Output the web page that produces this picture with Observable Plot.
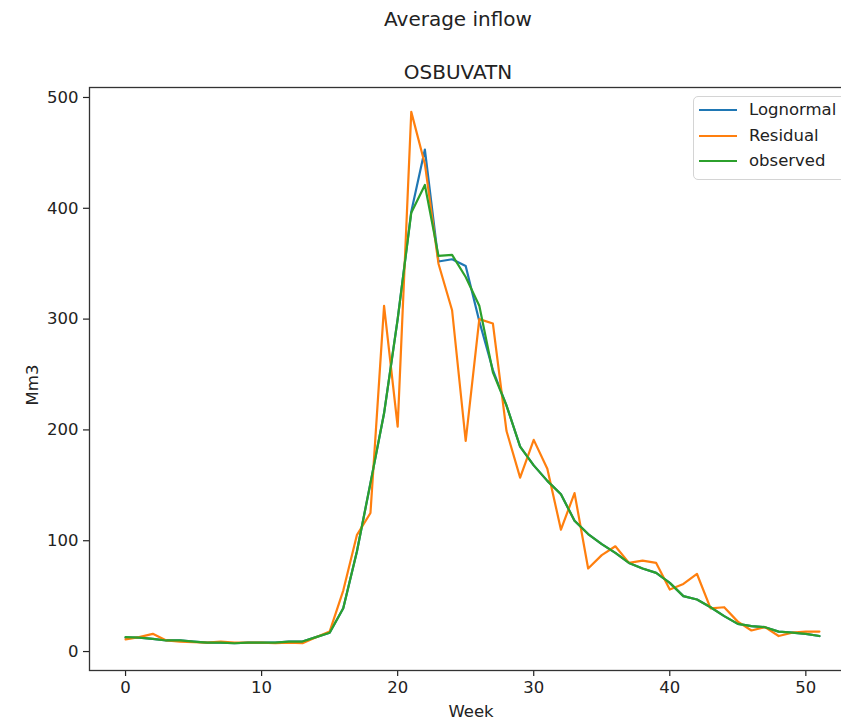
<!DOCTYPE html>
<html><head><meta charset="utf-8">
<script src="https://cdn.jsdelivr.net/npm/d3@7"></script>
<script src="https://cdn.jsdelivr.net/npm/@observablehq/plot@0.6"></script>
<style>
html,body{margin:0;padding:0;background:#fff;overflow:hidden;}
#wrap{position:relative;width:841px;height:721px;overflow:hidden;font-family:"DejaVu Sans",sans-serif;color:#222;background:#fff;}
.t{position:absolute;white-space:nowrap;transform:translate(-50%,-50%);line-height:1;}
#chart{position:absolute;left:0;top:80px;width:870px;height:641px;}
#chart svg{max-width:none !important;width:870px !important;height:641px !important;}
#legend{position:absolute;left:693px;top:96px;width:170px;height:82px;border:1px solid #d4d4d4;border-radius:5px;background:rgba(255,255,255,0.85);}
.row{position:absolute;left:0;height:20px;font-size:16.5px;line-height:20px;white-space:nowrap;}
.sw{position:absolute;left:5px;top:9px;width:38px;height:0;border-top:2.2px solid;}
.lb{position:absolute;left:55px;top:0;}
</style></head>
<body>
<div id="wrap">
  <div class="t" style="left:458px;top:19px;font-size:20px;">Average inflow</div>
  <div class="t" style="left:458px;top:72px;font-size:20px;">OSBUVATN</div>
  <div id="chart"></div>
  <div class="t" style="left:471px;top:712px;font-size:16.5px;">Week</div>
  <div class="t" style="left:33px;top:385px;font-size:16.5px;transform:translate(-50%,-50%) rotate(-90deg);">Mm3</div>
  <div id="legend"></div>
</div>
<script>
const weeks = [0,1,2,3,4,5,6,7,8,9,10,11,12,13,14,15,16,17,18,19,20,21,22,23,24,25,26,27,28,29,30,31,32,33,34,35,36,37,38,39,40,41,42,43,44,45,46,47,48,49,50,51];
const lognormal = [12.5,12.5,11.5,10,10,9,8,8,7.5,8,8,8,9,9,13,17,39,90,152,215,300,397,453,352,354,348,298,254,222,185,168,154,142,118,106,97,89,80,75,71,62,50,47,40,32,25,23,22,18,17,16,14];
const residual = [11,13,16,10,9,8.5,8,9,8,8,8,7.5,8,7.5,13,18,55,105,125,312,203,487,440,350,308,190,300,296,199,157,191,165,110,143,75,87,95,80,82,80,56,61,70,39,40,27,19,22,14,17,18,18];
const observed = [13,12.5,11.5,10,10,9,8,8,7.5,8,8,8,9,9,13,17,39,90,152,215,300,396,421,357,358,338,312,252,222,185,168,154,142,118,106,97,89,80,75,71,62,50,47,40,32,25,23,22,18,17,16,14];
const seriesNames = ["Lognormal","Residual","observed"];
const seriesColors = ["#1f77b4","#ff7f0e","#2ca02c"];
const xTicks = [0,10,20,30,40,50];
const yTicks = [0,100,200,300,400,500];

const allSeries = [lognormal, residual, observed];
const rows = [];
allSeries.forEach((vals, s) => vals.forEach((v, i) => rows.push({week: weeks[i], value: v, series: seriesNames[s]})));

const chart = Plot.plot({
  width: 870, height: 641,
  marginLeft: 89, marginRight: 15, marginTop: 7, marginBottom: 51,
  x: {domain: [-2.65, 53.65]},
  y: {domain: [-17.1, 509]},
  color: {domain: seriesNames, range: seriesColors},
  style: {fontFamily: "DejaVu Sans", fontSize: "16.5px", color: "#222", background: "#fff", overflow: "hidden", maxWidth: "none"},
  marks: [
    Plot.axisX({ticks: xTicks, tickSize: 6, tickPadding: 5, label: null, strokeWidth: 1.2}),
    Plot.axisY({ticks: yTicks, tickSize: 6, tickPadding: 5, label: null, strokeWidth: 1.2}),
    ...seriesNames.map(name => Plot.line(rows.filter(r => r.series === name), {x: "week", y: "value", stroke: "series", strokeWidth: 2.2})),
    Plot.frame({stroke: "#333", strokeWidth: 1.3})
  ]
});
document.getElementById("chart").appendChild(chart);

const legend = document.getElementById("legend");
const rowTops = [3, 29, 54];
seriesNames.forEach((name, i) => {
  const r = document.createElement("div");
  r.className = "row";
  r.style.top = rowTops[i] + "px";
  r.innerHTML = `<span class="sw" style="border-color:${seriesColors[i]}"></span><span class="lb">${name}</span>`;
  legend.appendChild(r);
});
</script>
</body></html>
